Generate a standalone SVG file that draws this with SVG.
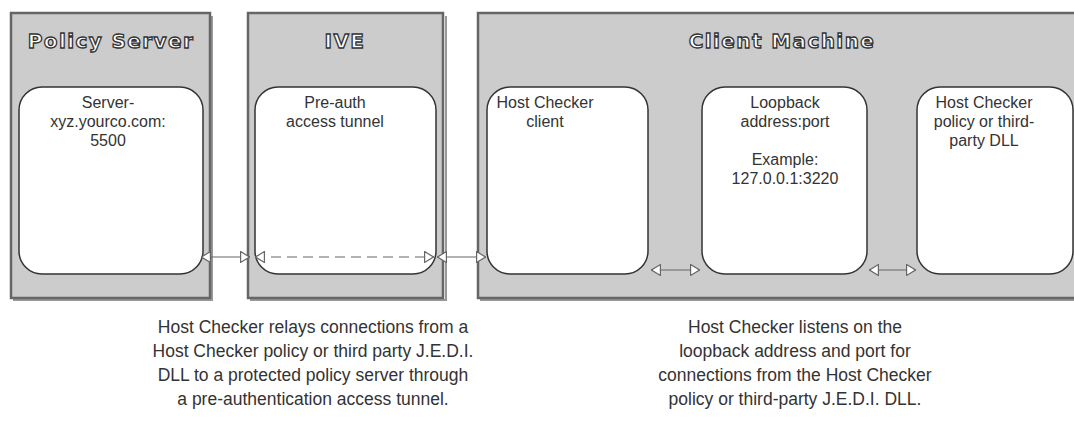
<svg xmlns="http://www.w3.org/2000/svg" width="1074" height="430" viewBox="0 0 1074 430">
<defs>
<style>
.panel{fill:#cccccc;stroke:#666666;stroke-width:2.5}
.shadow{fill:none;stroke:#999999;stroke-width:2}
.box{fill:#ffffff;stroke:#333333;stroke-width:1.5}
.title{font-family:"DejaVu Sans",sans-serif;font-weight:bold;font-size:20px;letter-spacing:1.4px;fill:#ffffff;stroke:#333333;stroke-width:1.3;text-anchor:middle}
.lbl{font-family:"Liberation Sans",Arial,sans-serif;font-size:16px;fill:#333333;text-anchor:middle}
.cap{font-family:"Liberation Sans",Arial,sans-serif;font-size:17.5px;fill:#333333;text-anchor:middle}
.conn{stroke:#666666;stroke-width:1.2;fill:none;marker-start:url(#ah);marker-end:url(#ah)}
.dash{stroke-dasharray:10 6}
</style>
<marker id="ah" viewBox="0 0 10 12" refX="10" refY="6" markerWidth="10" markerHeight="12" markerUnits="userSpaceOnUse" orient="auto-start-reverse">
<path d="M0.6,0.6 L9.5,6 L0.6,11.4 Z" fill="#ffffff" stroke="#666666" stroke-width="1.2"/>
</marker>
</defs>
<rect width="1074" height="430" fill="#ffffff"/>

<g id="policy-server">
<path class="shadow" d="M212,16 V300 H13"/>
<rect class="panel" x="11" y="13" width="199" height="285"/>
<text class="title" x="111" y="48">Policy Server</text>
<g id="server-box">
<rect class="box" x="19" y="87" width="184" height="187" rx="23" ry="23"/>
<text class="lbl" x="108" y="108">Server-</text>
<text class="lbl" x="108" y="127">xyz.yourco.com:</text>
<text class="lbl" x="108" y="146">5500</text>
</g>
</g>

<g id="ive">
<path class="shadow" d="M446,16 V300 H250"/>
<rect class="panel" x="248" y="13" width="195" height="285"/>
<text class="title" x="345" y="48">IVE</text>
<g id="preauth-box">
<rect class="box" x="255" y="87" width="181" height="187" rx="23" ry="23"/>
<text class="lbl" x="335" y="108">Pre-auth</text>
<text class="lbl" x="335" y="127">access tunnel</text>
</g>
</g>

<g id="client-machine">
<path class="shadow" d="M480,300 H1074"/>
<rect class="panel" x="478" y="13" width="610" height="285"/>
<text class="title" x="782" y="48">Client Machine</text>
<g id="hc-client-box">
<rect class="box" x="487" y="87" width="161" height="187" rx="23" ry="23"/>
<text class="lbl" x="545" y="108">Host Checker</text>
<text class="lbl" x="545" y="127">client</text>
</g>
<g id="loopback-box">
<rect class="box" x="702" y="87" width="165" height="187" rx="23" ry="23"/>
<text class="lbl" x="785" y="108">Loopback</text>
<text class="lbl" x="785" y="127">address:port</text>
<text class="lbl" x="785" y="165">Example:</text>
<text class="lbl" x="785" y="184">127.0.0.1:3220</text>
</g>
<g id="hc-policy-box">
<rect class="box" x="917" y="87" width="156" height="187" rx="23" ry="23"/>
<text class="lbl" x="984" y="108">Host Checker</text>
<text class="lbl" x="984" y="127">policy or third-</text>
<text class="lbl" x="984" y="146">party DLL</text>
</g>
</g>

<g id="connectors">
<line class="conn" x1="201" y1="257" x2="250" y2="257"/>
<line class="conn dash" x1="255" y1="257" x2="434" y2="257"/>
<line class="conn" x1="437" y1="257" x2="486" y2="257"/>
<line class="conn" x1="651" y1="270" x2="700" y2="270"/>
<line class="conn" x1="869" y1="270" x2="916" y2="270"/>
</g>

<g id="captions">
<text class="cap" x="313" y="333">Host Checker relays connections from a</text>
<text class="cap" x="313" y="357">Host Checker policy or third party J.E.D.I.</text>
<text class="cap" x="313" y="381">DLL to a protected policy server through</text>
<text class="cap" x="313" y="405">a pre-authentication access tunnel.</text>
<text class="cap" x="795" y="333">Host Checker listens on the</text>
<text class="cap" x="795" y="357">loopback address and port for</text>
<text class="cap" x="795" y="381">connections from the Host Checker</text>
<text class="cap" x="795" y="405">policy or third-party J.E.D.I. DLL.</text>
</g>
</svg>
